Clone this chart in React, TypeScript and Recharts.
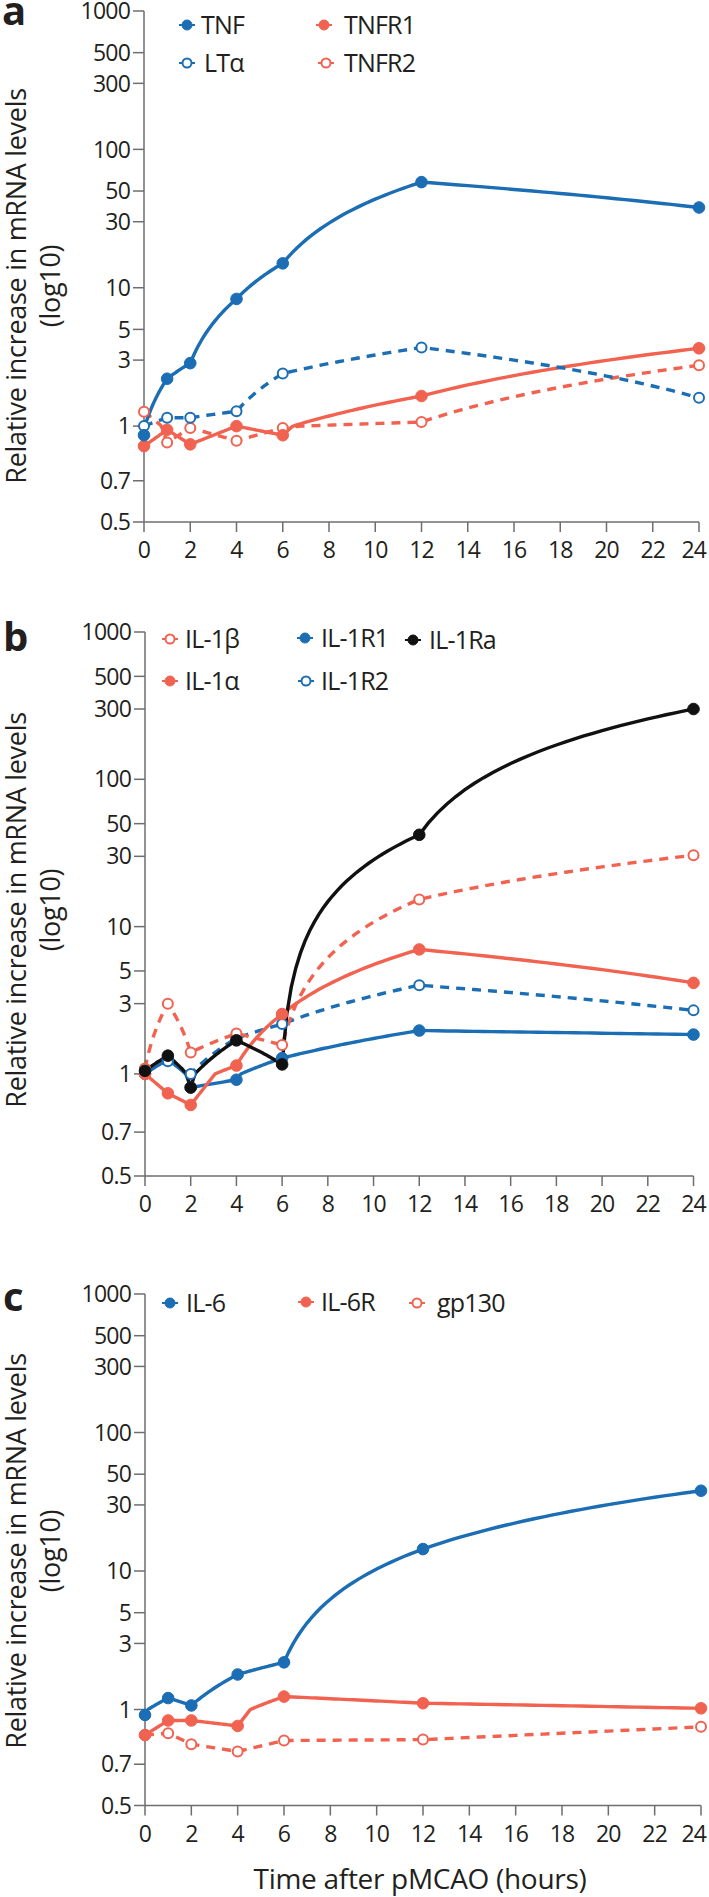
import { Line, LineChart, XAxis, YAxis } from "recharts";

const HOURS = [0, 1, 2, 4, 6, 12, 24];
const X_TICKS = [0, 2, 4, 6, 8, 10, 12, 14, 16, 18, 20, 22, 24];
const Y_TICKS = [0.5, 0.7, 1, 3, 5, 10, 30, 50, 100, 300, 500, 1000];

// panel a
const TNF = [0.95, 2.2, 2.85, 8.3, 15, 58, 38];
const LTA = [1.0, 1.15, 1.15, 1.28, 2.4, 3.7, 1.6];
const TNFR1 = [0.89, 0.98, 0.9, 1.0, 0.95, 1.65, 3.65];
const TNFR2 = [1.27, 0.91, 0.99, 0.92, 0.99, 1.07, 2.75];

// panel b
const IL1B = [1.09, 3.0, 1.4, 1.88, 1.57, 15.3, 30.5];
const IL1A = [1.0, 0.9, 0.84, 1.14, 2.55, 7.0, 4.15];
const IL1R1 = [1.0, 1.25, 0.93, 0.97, 1.28, 1.97, 1.85];
const IL1R2 = [1.08, 1.22, 1.0, 1.75, 2.18, 4.0, 2.7];
const IL1RA = [1.05, 1.33, 0.93, 1.69, 1.16, 42, 300];

// panel c
const IL6 = [0.97, 1.21, 1.07, 1.79, 2.19, 14.4, 38];
const IL6R = [0.86, 0.94, 0.94, 0.91, 1.24, 1.11, 1.02];
const GP130 = [0.86, 0.87, 0.81, 0.77, 0.83, 0.835, 0.905];

const BLUE = "#1b6db4";
const RED = "#f16250";
const BLACK = "#111111";
const AXIS = "#6d6e70";
const TEXT = "#231f20";
const FONT = "'Open Sans', 'Noto Sans', sans-serif";
const TICK_FONT = 23;

// the figure stretches the part of the axis below 1
function toAxis(v: number) {
  if (v >= 1) return Math.log10(v);
  if (v >= 0.7) return ((v - 1) / 0.3) * 0.395;
  return -0.395 - ((0.7 - v) / 0.2) * 0.298;
}

function fromAxis(t: number) {
  if (t >= 0) return Math.pow(10, t);
  if (t >= -0.395) return 1 + (t / 0.395) * 0.3;
  return 0.7 - ((-0.395 - t) / 0.298) * 0.2;
}

const Y_MIN = toAxis(0.5);
const Y_MAX = 3;

function tickLabel(t: number) {
  let best = Y_TICKS[0];
  for (const v of Y_TICKS) {
    if (Math.abs(toAxis(v) - t) < Math.abs(toAxis(best) - t)) best = v;
  }
  return String(best);
}

// segments are straight in linear units, then shown on the log axis
function linearUnitsCurve(top: number, height: number) {
  const span = Y_MAX - Y_MIN;
  const toT = (py: number) => Y_MAX - ((py - top) / height) * span;
  const toPy = (t: number) => top + ((Y_MAX - t) / span) * height;
  return (context: any) => {
    let last: number[] | null = null;
    return {
      areaStart() {},
      areaEnd() {},
      lineStart() {
        last = null;
      },
      lineEnd() {},
      point(x: number, y: number) {
        if (!last) {
          context.moveTo(x, y);
        } else {
          const [x0, y0] = last;
          const v0 = fromAxis(toT(y0));
          const v1 = fromAxis(toT(y));
          for (let k = 1; k <= 30; k++) {
            const s = k / 30;
            context.lineTo(
              x0 + (x - x0) * s,
              toPy(toAxis(v0 + (v1 - v0) * s))
            );
          }
        }
        last = [x, y];
      },
    };
  };
}

function XTick(props: any) {
  const { x, y, payload } = props;
  const label = String(payload.value);
  const half = (label.length * 0.572 * TICK_FONT) / 2;
  return (
    <text
      x={Math.min(x, 707 - half)}
      y={y}
      dy="0.71em"
      textAnchor="middle"
      fontSize={TICK_FONT}
      fill={TEXT}
      letterSpacing={-0.8}
    >
      {label}
    </text>
  );
}

function YTick(props: any) {
  const { x, y, payload } = props;
  return (
    <text
      x={x}
      y={y}
      dy="0.355em"
      textAnchor="end"
      fontSize={TICK_FONT}
      fill={TEXT}
      letterSpacing={-0.8}
    >
      {tickLabel(payload.value)}
    </text>
  );
}

type Series = {
  key: string;
  values: number[];
  color: string;
  open?: boolean;
  dashed?: boolean;
};

type PanelProps = {
  top: number;
  plotHeight: number;
  right: number;
  left: number;
  series: Series[];
};

const PLOT_TOP = 22;
const X_AXIS_H = 50;

function Panel({ top, plotHeight, right, left, series }: PanelProps) {
  const rows = HOURS.map((h, i) => {
    const row: Record<string, number> = { h };
    series.forEach((s) => {
      row[s.key] = toAxis(s.values[i]);
    });
    return row;
  });
  const curve = linearUnitsCurve(PLOT_TOP, plotHeight);

  return (
    <div style={{ position: "absolute", left: 0, top: top - PLOT_TOP }}>
      <LineChart
        width={709}
        height={PLOT_TOP + plotHeight + X_AXIS_H}
        data={rows}
        margin={{ top: PLOT_TOP, right: 709 - right, bottom: 0, left: 0 }}
      >
        <XAxis
          dataKey="h"
          type="number"
          domain={[0, 24]}
          ticks={X_TICKS}
          interval={0}
          height={X_AXIS_H}
          tickSize={10}
          tickMargin={10}
          axisLine={{ stroke: AXIS, strokeWidth: 1.5 }}
          tickLine={{ stroke: AXIS, strokeWidth: 1.5 }}
          tick={<XTick />}
        />
        <YAxis
          type="number"
          domain={[Y_MIN, Y_MAX]}
          ticks={Y_TICKS.map(toAxis)}
          interval={0}
          width={left}
          tickSize={11}
          tickMargin={3}
          axisLine={{ stroke: AXIS, strokeWidth: 1.5 }}
          tickLine={{ stroke: AXIS, strokeWidth: 1.5 }}
          tick={<YTick />}
        />
        {series.map((s) => (
          <Line
            key={s.key}
            dataKey={s.key}
            type={curve as any}
            stroke={s.color}
            strokeWidth={3.4}
            strokeDasharray={s.dashed ? "9 7" : undefined}
            dot={
              s.open
                ? { r: 5, fill: "#fff", stroke: s.color, strokeWidth: 2, strokeDasharray: "none" }
                : { r: 5.8, fill: s.color, stroke: s.color, strokeWidth: 1, strokeDasharray: "none" }
            }
            activeDot={false}
            isAnimationActive={false}
          />
        ))}
      </LineChart>
    </div>
  );
}

type LegendItem = { label: string; x: number; y: number; tx: number; color: string; open?: boolean };

const LEGEND: LegendItem[] = [
  { label: "TNF", x: 187, y: 25, tx: 201, color: BLUE },
  { label: "LTα", x: 187, y: 63, tx: 204, color: BLUE, open: true },
  { label: "TNFR1", x: 324, y: 25, tx: 344, color: RED },
  { label: "TNFR2", x: 326, y: 63, tx: 344, color: RED, open: true },
  { label: "IL-1β", x: 170, y: 639, tx: 185, color: RED, open: true },
  { label: "IL-1α", x: 170, y: 681, tx: 185, color: RED },
  { label: "IL-1R1", x: 305, y: 638, tx: 321, color: BLUE },
  { label: "IL-1R2", x: 306, y: 681, tx: 321, color: BLUE, open: true },
  { label: "IL-1Ra", x: 413, y: 640, tx: 429, color: BLACK },
  { label: "IL-6", x: 170, y: 1303, tx: 186, color: BLUE },
  { label: "IL-6R", x: 306, y: 1302, tx: 321, color: RED },
  { label: "gp130", x: 417, y: 1303, tx: 437, color: RED, open: true },
];

const Y_LABEL_CENTERS = [286, 910, 1551];

function Overlay() {
  return (
    <svg
      width={709}
      height={1897}
      style={{ position: "absolute", left: 0, top: 0, pointerEvents: "none" }}
      fontFamily={FONT}
    >
      <text x={2} y={25} fontSize={40} fontWeight={700} fill={TEXT}>a</text>
      <text x={3} y={651} fontSize={40} fontWeight={700} fill={TEXT}>b</text>
      <text x={3} y={1311} fontSize={40} fontWeight={700} fill={TEXT}>c</text>
      {Y_LABEL_CENTERS.map((cy) => (
        <text
          key={cy}
          transform={`translate(26, ${cy}) rotate(-90)`}
          textAnchor="middle"
          fontSize={27}
          letterSpacing={-0.3}
          fill={TEXT}
        >
          <tspan x={0} y={0}>Relative increase in mRNA levels</tspan>
          <tspan x={0} y={34}>(log10)</tspan>
        </text>
      ))}
      {LEGEND.map((it) => (
        <g key={it.label}>
          <line x1={it.x - 8} x2={it.x + 8} y1={it.y} y2={it.y} stroke={it.color} strokeWidth={2} />
          <circle
            cx={it.x}
            cy={it.y}
            r={it.open ? 4.5 : 5}
            fill={it.open ? "#fff" : it.color}
            stroke={it.color}
            strokeWidth={it.open ? 2 : 1}
          />
          <text x={it.tx} y={it.y + 9} fontSize={25} letterSpacing={-0.8} fill={TEXT}>
            {it.label}
          </text>
        </g>
      ))}
      <text x={420} y={1889} textAnchor="middle" fontSize={28} letterSpacing={-0.3} fill={TEXT}>
        Time after pMCAO (hours)
      </text>
    </svg>
  );
}

export default function App() {
  return (
    <div
      style={{
        position: "absolute",
        left: 0,
        top: 0,
        width: 709,
        height: 1897,
        overflow: "hidden",
        background: "#fff",
        fontFamily: FONT,
      }}
    >
      <Panel
        top={11}
        plotHeight={511}
        left={144}
        right={699}
        series={[
          { key: "TNFR2", values: TNFR2, color: RED, open: true, dashed: true },
          { key: "TNFR1", values: TNFR1, color: RED },
          { key: "LTA", values: LTA, color: BLUE, open: true, dashed: true },
          { key: "TNF", values: TNF, color: BLUE },
        ]}
      />
      <Panel
        top={631.5}
        plotHeight={544}
        left={145}
        right={693.5}
        series={[
          { key: "IL1R1", values: IL1R1, color: BLUE },
          { key: "IL1R2", values: IL1R2, color: BLUE, open: true, dashed: true },
          { key: "IL1A", values: IL1A, color: RED },
          { key: "IL1B", values: IL1B, color: RED, open: true, dashed: true },
          { key: "IL1RA", values: IL1RA, color: BLACK },
        ]}
      />
      <Panel
        top={1293.5}
        plotHeight={511.5}
        left={145}
        right={701}
        series={[
          { key: "GP130", values: GP130, color: RED, open: true, dashed: true },
          { key: "IL6R", values: IL6R, color: RED },
          { key: "IL6", values: IL6, color: BLUE },
        ]}
      />
      <Overlay />
    </div>
  );
}
